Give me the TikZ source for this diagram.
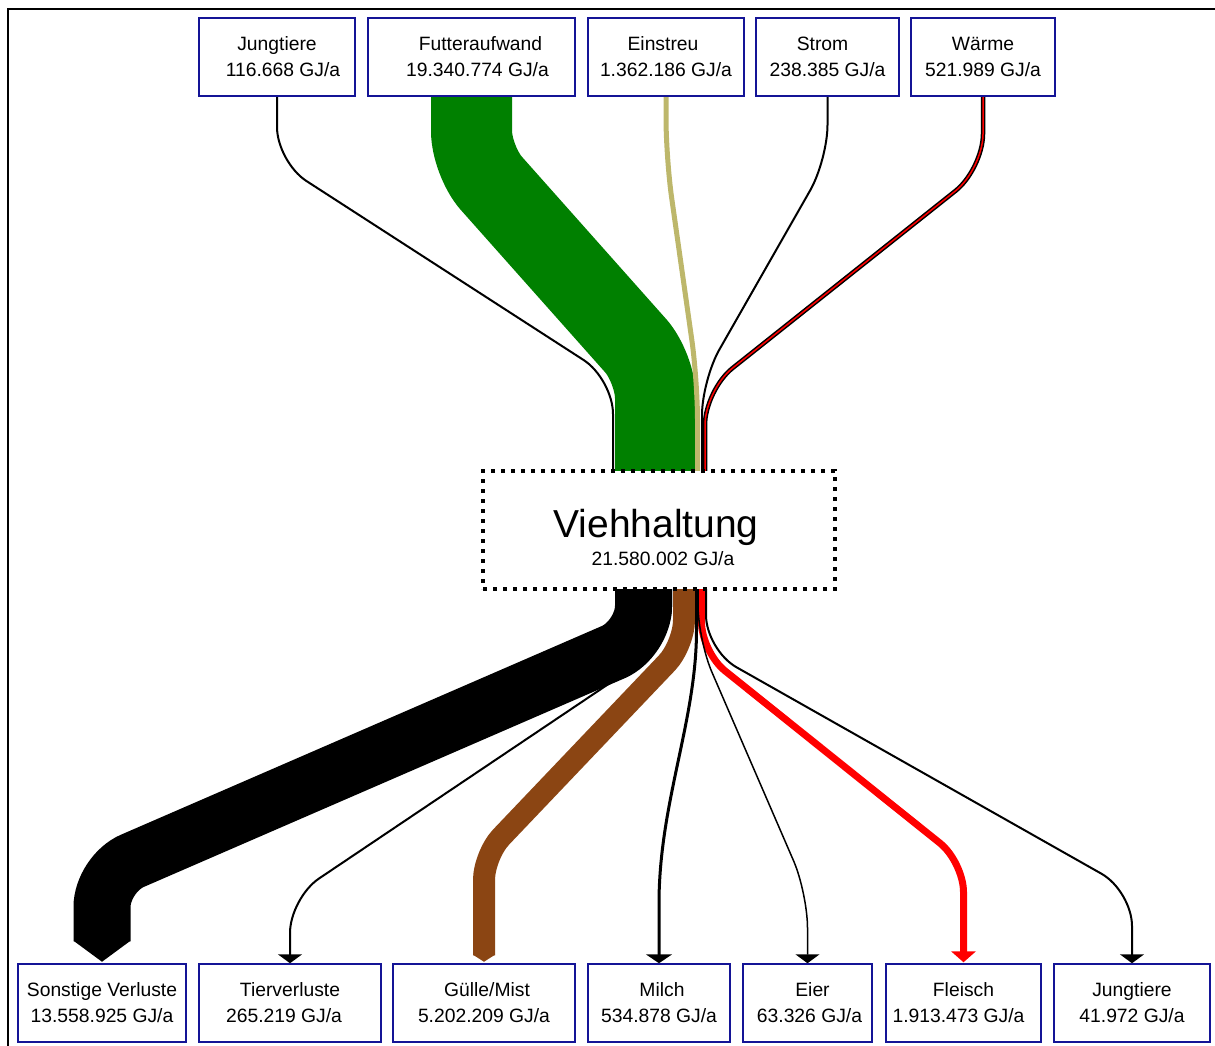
\documentclass[tikz,border=0pt]{standalone}
\usepackage{fontspec}
\setmainfont{Liberation Sans}
\usetikzlibrary{arrows.meta}
\pgfdeclarelayer{bg}
\pgfsetlayers{bg,main}
\definecolor{boxblue}{RGB}{20,20,150}
\definecolor{flowgreen}{RGB}{0,128,0}
\definecolor{flowbrown}{RGB}{139,69,19}
\definecolor{flowkhaki}{RGB}{189,183,107}
\newcommand{\rsh}[1]{\hspace*{#1}}
\newcommand{\lsh}[1]{\hspace*{#1}\mbox{}}
\begin{document}
\begin{tikzpicture}[x=1pt,y=-1pt,
  box/.style={draw=boxblue, line width=1.5pt, fill=white, align=center,
    font=\fontsize{19.3}{26}\selectfont, inner sep=0pt, minimum height=78pt},
  bigflow/.style={line cap=butt, rounded corners=30pt},
  inflow/.style={draw=black, line width=2pt, rounded corners=35pt},
  outflow/.style={draw=black, line width=2pt, rounded corners=35pt,
    -{Triangle[width=24pt,length=9pt]}}]
\useasboundingbox (0,0) rectangle (1215,1046);
\draw[line width=2pt] (8,1046) -- (8,9) -- (1215,9);

% top boxes
\node[box, minimum width=156pt] (jt) at (277,57) {Jungtiere\\\rsh{12pt}116.668 GJ/a};
\node[box, minimum width=207pt] (fa) at (471.5,57) {\rsh{18pt}Futteraufwand\\\rsh{12pt}19.340.774 GJ/a};
\node[box, minimum width=156pt] (es) at (666,57) {Einstreu\lsh{6pt}\\1.362.186 GJ/a};
\node[box, minimum width=143pt] (st) at (827.5,57) {Strom\lsh{10pt}\\238.385 GJ/a};
\node[box, minimum width=144pt] (wa) at (983,57) {Wärme\\521.989 GJ/a};

% central box
\node[draw, line width=4pt, dash pattern=on 4pt off 6pt, fill=white,
  minimum width=352pt, minimum height=118pt, inner sep=0pt] (vh) at (659,530) {};
\node[font=\fontsize{39}{47}\selectfont, anchor=base, inner sep=0pt] (vht) at (656,537) {Viehhaltung};
\node[font=\fontsize{19.3}{26}\selectfont, anchor=base, inner sep=0pt] (vhv) at (663,565) {21.580.002 GJ/a};

% bottom boxes
\node[box, minimum width=168pt] (sv) at (102,1003) {Sonstige Verluste\\13.558.925 GJ/a};
\node[box, minimum width=182pt] (tv) at (290,1003) {Tierverluste\\265.219 GJ/a\lsh{12pt}};
\node[box, minimum width=182pt] (gm) at (484,1003) {\rsh{6pt}Gülle/Mist\\5.202.209 GJ/a};
\node[box, minimum width=142pt] (mi) at (659,1003) {\rsh{6pt}Milch\\534.878 GJ/a};
\node[box, minimum width=129pt] (ei) at (807.5,1003) {\rsh{10pt}Eier\\\rsh{4pt}63.326 GJ/a};
\node[box, minimum width=155pt] (fl) at (963.5,1003) {Fleisch\\1.913.473 GJ/a\lsh{10pt}};
\node[box, minimum width=156pt] (jo) at (1132,1003) {Jungtiere\\41.972 GJ/a};

% ports on the central box
\coordinate (i1) at (613,471);
\coordinate (i2) at (655.5,471);
\coordinate (i3) at (697.5,471);
\coordinate (i4) at (702,471);
\coordinate (i5) at (705,471);
\coordinate (o1) at (643.5,589);
\coordinate (o2) at (671,589);
\coordinate (o3) at (684,589);
\coordinate (o4) at (696.5,589);
\coordinate (o5) at (698,589);
\coordinate (o6) at (701.5,589);
\coordinate (o7) at (706,589);

\begin{pgfonlayer}{bg}
% inputs
\draw[bigflow, flowgreen, line width=81pt] (fa.south) -- (471.5,161) -- (655.5,368) -- (i2);
\draw[bigflow, flowkhaki, line width=5pt, rounded corners=40pt] (es.south) -- (666,158) -- (697.5,380) -- (i3);
\draw[inflow] (jt.south) -- (277,162) -- (613,379) -- (i1);
\draw[inflow] (st.south) -- (827.5,160) -- (702,380) -- (i4);
\draw[inflow, line width=4.5pt] (wa.south) -- (983,169) -- (705,390) -- (i5);
\draw[inflow, draw=red, line width=1.5pt] (wa.south) -- (983,169) -- (705,390) -- (i5);

% outputs
\draw[bigflow, black, line width=57pt, rounded corners=33pt] (o1) -- (643.5,639) -- (102,874) -- ([yshift=22pt]sv.north);
\fill[black] ([xshift=-28.5pt,yshift=22.5pt]sv.north) -- ([yshift=1.5pt]sv.north) -- ([xshift=28.5pt,yshift=22.5pt]sv.north) -- cycle;

\draw[bigflow, flowbrown, line width=22pt, rounded corners=25pt] (o3) -- (684,645) -- (484,855) -- ([yshift=8pt]gm.north);
\fill[flowbrown] ([xshift=-11pt,yshift=8.5pt]gm.north) -- ([yshift=1.5pt]gm.north) -- ([xshift=11pt,yshift=8.5pt]gm.north) -- cycle;

\draw[bigflow, red, line width=7pt] (o6) -- (701.5,652) -- (963.5,862) -- ([yshift=11pt]fl.north);
\fill[red] ([xshift=-12.5pt,yshift=12pt]fl.north) -- ([yshift=1pt]fl.north) -- ([xshift=12.5pt,yshift=12pt]fl.north) -- cycle;

\draw[outflow] (o2) -- (671,642) -- (290,898) -- (tv.north);
\draw[outflow, line width=3pt, rounded corners=0pt, -{Triangle[width=26pt,length=9pt]}] (o4) -- (696.5,630) .. controls (696.5,720) and (660,800) .. (659,900) -- (mi.north);
\draw[outflow, line width=1.5pt] (o5) -- (698,640) -- (807.5,893) -- (ei.north);
\draw[outflow] (o7) -- (706,650) -- (1132,891) -- (jo.north);
\end{pgfonlayer}
\end{tikzpicture}
\end{document}
